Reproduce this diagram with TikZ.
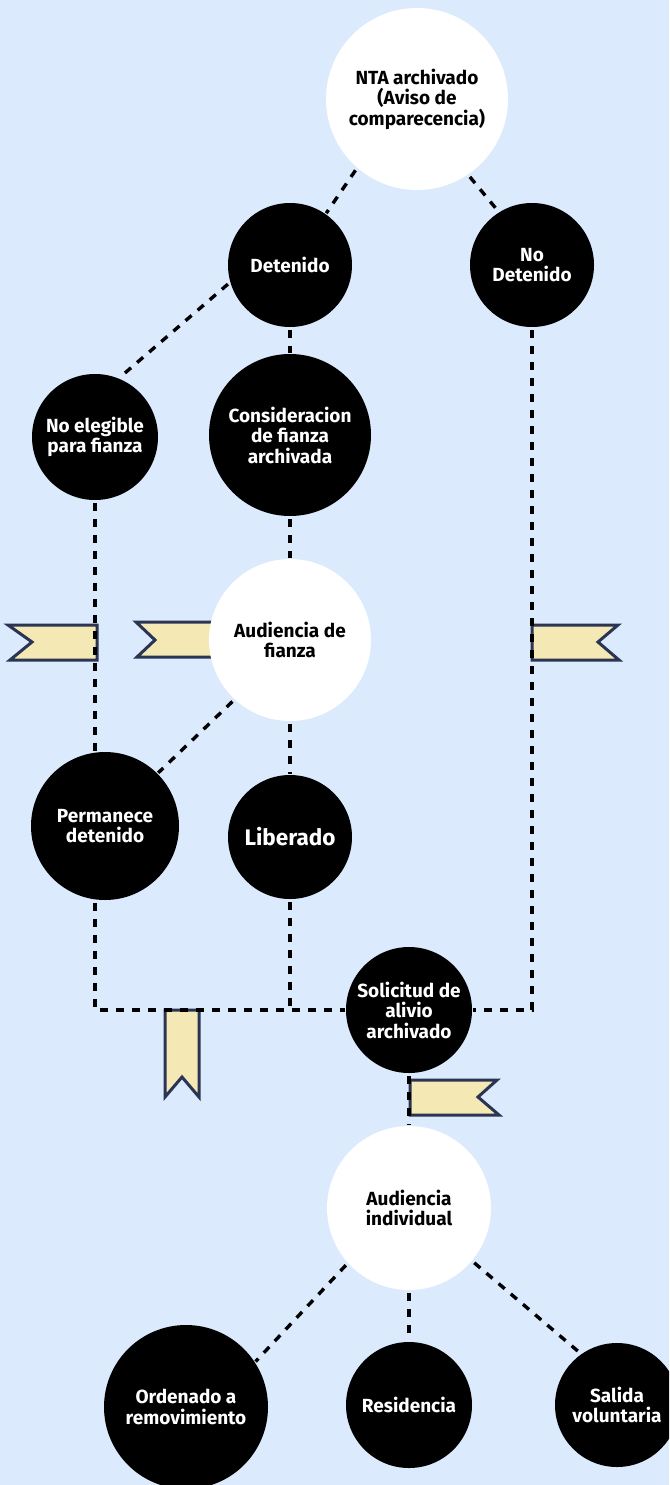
\documentclass[tikz,border=0pt]{standalone}
\usepackage{fontspec}
\setmainfont{Fira Sans}
\definecolor{bg}{RGB}{219,234,252}
\definecolor{ribbon}{RGB}{244,233,180}
\definecolor{ribbonline}{RGB}{43,52,82}
\begin{document}
\begin{tikzpicture}[x=1pt,y=-1pt,
  blk/.style={circle, fill=black, text=white, inner sep=0pt, align=center, font=\bfseries\fontsize{19}{20.5}\selectfont},
  wht/.style={circle, fill=white, text=black, inner sep=0pt, align=center, font=\bfseries\fontsize{19}{20.5}\selectfont},
  conn/.style={line width=3.4pt, dash pattern=on 8pt off 8pt, shorten <=3pt, shorten >=1pt},
  rib/.style={fill=ribbon, draw=ribbonline, line width=3pt, line join=miter}]
\useasboundingbox (0,0) rectangle (669,1485);
\fill[bg] (0,0) rectangle (669,1485);
\clip (0,0) rectangle (669,1485);
% ribbons
\path[rib] (8,625) -- (97,625) -- (97,660) -- (10,660) -- (32,642) -- cycle;
\path[rib] (136,622) -- (240,622) -- (240,657) -- (137,657) -- (155,640) -- cycle;
\path[rib] (532,625) -- (618,625) -- (598,642) -- (619,660) -- (532,660) -- cycle;
\path[rib] (165,1010) -- (199,1010) -- (199,1097) -- (182,1077) -- (165,1097) -- cycle;
\path[rib] (410,1080) -- (497,1080) -- (478,1097) -- (499,1115) -- (410,1115) -- cycle;
% nodes
\node[wht, minimum size=182pt] (nta) at (417,99) {NTA archivado\\(Aviso de\\comparecencia)};
\node[blk, minimum size=124pt] (det) at (290,265) {Detenido};
\node[blk, minimum size=124pt] (nodet) at (532,265) {No\\Detenido};
\node[blk, minimum size=126pt] (noelig) at (95,437) {No elegible\\para fianza};
\node[blk, minimum size=162pt] (consid) at (290,435) {Consideracion\\de fianza\\archivada};
\node[wht, minimum size=162pt] (audf) at (290,640) {Audiencia de\\fianza};
\node[blk, minimum size=148pt] (perm) at (105,826) {Permanece\\detenido};
\node[blk, minimum size=124pt, font=\bfseries\fontsize{22.5}{24}\selectfont] (lib) at (290,837) {Liberado};
\node[blk, minimum size=126pt] (sol) at (409,1010) {Solicitud de\\alivio\\archivado};
\node[wht, minimum size=164pt] (ai) at (409,1208) {Audiencia\\individual};
\node[blk, minimum size=164pt] (ord) at (186,1407) {Ordenado a\\removimiento};
\node[blk, minimum size=126pt] (res) at (409,1405) {Residencia};
\node[blk, minimum size=124pt] (sal) at (617,1405) {Salida\\voluntaria};
% connectors
\draw[conn] (nta.229) -- (det.55);
\draw[conn] (nta.304) -- (nodet.122);
\draw[conn] (det.196) -- (noelig.68);
\draw[conn] (det.south) -- (consid.north);
\draw[conn] (consid.south) -- (audf.north);
\draw[conn] (noelig.south) -- (noelig.south |- perm.north);
\draw[conn] (audf.227) -- (perm.45);
\draw[conn] (audf.south) -- (lib.north);
\draw[conn] (noelig.south |- perm.south) |- (sol.west);
\draw[conn] (lib.south) -- (lib.south |- sol.west);
\draw[conn] (nodet.south) |- (sol.east);
\draw[conn] (sol.south) -- (ai.north);
\draw[conn] (ai.222) -- (ord.33);
\draw[conn] (ai.south) -- (res.north);
\draw[conn] (ai.320) -- (sal.125);
\end{tikzpicture}
\end{document}
